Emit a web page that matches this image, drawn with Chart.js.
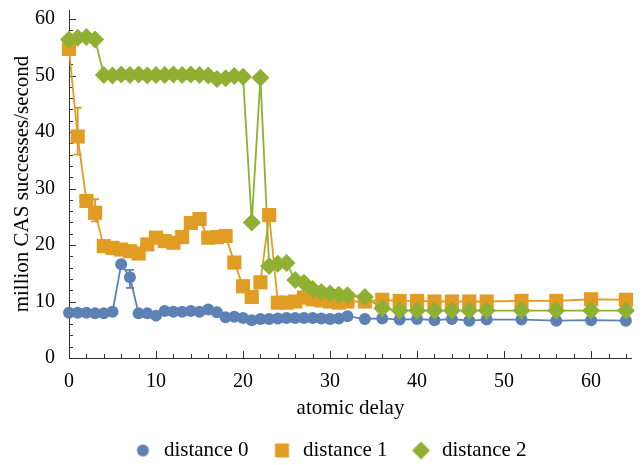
<!DOCTYPE html>
<html>
<head>
<meta charset="utf-8">
<title>CAS throughput vs atomic delay</title>
<script src="https://cdn.jsdelivr.net/npm/chart.js@4.4.0/dist/chart.umd.min.js"></script>
<style>
  html, body { margin: 0; padding: 0; background: #fff; }
</style>
</head>
<body>
<canvas id="canvas" width="642" height="465"></canvas>
<script>
// x values: atomic delay
var delays = [0, 1, 2, 3, 4, 5, 6, 7, 8, 9, 10, 11, 12, 13, 14, 15, 16, 17, 18, 19, 20,
    21, 22, 23, 24, 25, 26, 27, 28, 29, 30, 31, 32, 34, 36, 38, 40, 42, 44, 46, 48, 52, 56, 60, 64];

// million CAS successes/second
var dist0 = [8.0, 8.0, 8.0, 7.9, 7.9, 8.2, 16.6, 14.3, 7.9, 7.9, 7.5, 8.3, 8.2, 8.2, 8.3, 8.2, 8.6, 8.1, 7.2, 7.3, 7.1,
    6.7, 6.9, 6.9, 7.0, 7.1, 7.1, 7.1, 7.1, 7.0, 6.9, 7.0, 7.4, 6.9, 7.0, 6.8, 6.9, 6.7, 6.9, 6.6, 6.8, 6.8, 6.6, 6.7, 6.6];
var dist1 = [54.7, 39.2, 27.8, 25.7, 19.8, 19.5, 19.2, 18.9, 18.5, 20.1, 21.3, 20.7, 20.4, 21.4, 23.9, 24.6, 21.3, 21.4, 21.6, 16.9, 12.7,
    10.8, 13.4, 25.3, 9.8, 9.8, 10.0, 10.7, 10.4, 10.2, 10.0, 9.8, 10.0, 10.0, 10.3, 10.1, 10.1, 10.0, 10.0, 10.0, 10.0, 10.1, 10.1, 10.4, 10.3];
var dist2 = [56.4, 56.7, 56.8, 56.4, 50.1, 50.0, 50.2, 50.1, 50.2, 50.0, 50.1, 50.1, 50.2, 50.1, 50.2, 50.1, 50.0, 49.4, 49.5, 49.9, 49.8,
    24.0, 49.6, 16.3, 16.7, 16.8, 13.8, 13.3, 12.2, 11.7, 11.4, 11.2, 11.1, 10.8, 8.8, 8.4, 8.4, 8.4, 8.4, 8.4, 8.4, 8.4, 8.4, 8.4, 8.4];

// error bars: [delay, low, high]
var err0 = [[7, 12.4, 15.6]];
var err1 = [[1, 36.0, 44.3], [3, 24.2, 28.1]];
var err2 = [];

var seriesNames = ["distance 0", "distance 1", "distance 2"];
var colors = ["#5E81B5", "#E19C24", "#8FB032"];
var xTicks = [0, 10, 20, 30, 40, 50, 60];
var yTicks = [0, 10, 20, 30, 40, 50, 60];

var serif = "'Liberation Serif', 'Times New Roman', serif";
Chart.defaults.font.family = serif;
Chart.defaults.font.size = 20;
Chart.defaults.color = "#000";

function toPoints(values) {
    return delays.map(function (d, i) { return { x: d, y: values[i] }; });
}

// small canvases used as legend markers, marker sits right of centre
function legendMarker(style, color) {
    var c = document.createElement("canvas");
    c.width = 40;
    c.height = 22;
    var ctx = c.getContext("2d");
    var cx = 29.5, cy = 11;
    ctx.fillStyle = color;
    ctx.beginPath();
    if (style === "circle") {
        ctx.arc(cx, cy, 6, 0, Math.PI * 2);
    } else if (style === "rect") {
        ctx.rect(cx - 7, cy - 7, 14, 14);
    } else {
        ctx.moveTo(cx - 9, cy);
        ctx.lineTo(cx, cy - 9);
        ctx.lineTo(cx + 9, cy);
        ctx.lineTo(cx, cy + 9);
        ctx.closePath();
    }
    ctx.fill();
    return c;
}

var styles = ["circle", "rect", "rectRot"];
var radii = [6, 10, 9];
var markers = styles.map(function (s, i) { return legendMarker(s, colors[i]); });
var allValues = [dist0, dist1, dist2];
var allErrors = [err0, err1, err2];

var datasets = [];
// lines first (drawn underneath every marker)
allValues.forEach(function (vals, i) {
    datasets.push({
        label: seriesNames[i] + " line",
        data: toPoints(vals),
        showLine: true,
        borderColor: colors[i],
        borderWidth: 1.8,
        pointRadius: 0,
        tension: 0,
        clip: false,
        order: 10 - i
    });
});
allValues.forEach(function (vals, i) {
    datasets.push({
        label: seriesNames[i],
        data: toPoints(vals),
        showLine: false,
        pointStyle: styles[i],
        pointRadius: radii[i],
        pointBackgroundColor: colors[i],
        pointBorderWidth: 0,
        backgroundColor: colors[i],
        borderColor: colors[i],
        clip: false,
        order: 3 - i
    });
});

// axes with inward ticks and error bars, drawn under the data
var axesPlugin = {
    id: "mmaAxes",
    beforeDatasetsDraw: function (chart) {
        var ctx = chart.ctx;
        var area = chart.chartArea;
        var xs = chart.scales.x, ys = chart.scales.y;
        ctx.save();
        ctx.strokeStyle = "#333";
        ctx.lineWidth = 1;
        ctx.beginPath();
        ctx.moveTo(area.left + 0.5, area.top);
        ctx.lineTo(area.left + 0.5, area.bottom);
        ctx.moveTo(area.left, area.bottom + 0.5);
        ctx.lineTo(area.right, area.bottom + 0.5);
        for (var v = 0; v <= xs.max; v += 2) {
            var px = Math.round(xs.getPixelForValue(v)) + 0.5;
            var len = (v % 10 === 0) ? 7 : 4;
            ctx.moveTo(px, area.bottom);
            ctx.lineTo(px, area.bottom - len);
        }
        for (var w = 0; w <= ys.max; w += 2) {
            var py = Math.round(ys.getPixelForValue(w)) + 0.5;
            var len2 = (w % 10 === 0) ? 7 : 4;
            ctx.moveTo(area.left, py);
            ctx.lineTo(area.left + len2, py);
        }
        ctx.stroke();

        allErrors.forEach(function (list, i) {
            ctx.strokeStyle = colors[i];
            ctx.lineWidth = 1.8;
            ctx.beginPath();
            list.forEach(function (e) {
                var x = xs.getPixelForValue(e[0]);
                var lo = ys.getPixelForValue(e[1]);
                var hi = ys.getPixelForValue(e[2]);
                ctx.moveTo(x, lo);
                ctx.lineTo(x, hi);
                ctx.moveTo(x - 4, lo);
                ctx.lineTo(x + 4, lo);
                ctx.moveTo(x - 4, hi);
                ctx.lineTo(x + 4, hi);
            });
            ctx.stroke();
        });
        ctx.restore();
    }
};

var ctx = document.getElementById("canvas").getContext("2d");
var myChart = new Chart(ctx, {
    type: "scatter",
    data: { datasets: datasets },
    options: {
        responsive: false,
        animation: false,
        events: [],
        layout: { padding: { top: 5, right: 2, bottom: -6, left: 0 } },
        plugins: {
            tooltip: { enabled: false },
            legend: {
                position: "bottom",
                labels: {
                    usePointStyle: true,
                    pointStyleWidth: 40,
                    padding: 4,
                    color: "#000",
                    font: { family: serif, size: 21 },
                    generateLabels: function () {
                        return seriesNames.map(function (n, i) {
                            return {
                                text: n,
                                pointStyle: markers[i],
                                fillStyle: colors[i],
                                strokeStyle: colors[i],
                                lineWidth: 0,
                                hidden: false,
                                datasetIndex: i + 3,
                                fontColor: "#000"
                            };
                        });
                    }
                }
            }
        },
        scales: {
            x: {
                type: "linear",
                min: 0,
                max: 64.7,
                grid: { display: false },
                border: { display: false },
                ticks: { padding: 4, color: "#000", font: { size: 20 } },
                title: {
                    display: true,
                    text: "atomic delay",
                    color: "#000",
                    font: { size: 21 },
                    padding: { top: 0, bottom: 15 }
                },
                afterBuildTicks: function (s) {
                    s.ticks = xTicks.map(function (v) { return { value: v }; });
                },
                afterFit: function (s) {
                    s.height = 78;
                    s.paddingLeft = 0;
                    s.paddingRight = 0;
                }
            },
            y: {
                type: "linear",
                min: 0,
                max: 61.6,
                grid: { display: false },
                border: { display: false },
                ticks: { padding: 6, color: "#000", font: { size: 20 } },
                title: {
                    display: true,
                    text: "million CAS successes/second",
                    color: "#000",
                    font: { size: 21 },
                    padding: { top: 10, bottom: 0 }
                },
                afterBuildTicks: function (s) {
                    s.ticks = yTicks.map(function (v) { return { value: v }; });
                },
                afterFit: function (s) {
                    s.width = 69;
                    s.paddingTop = 0;
                    s.paddingBottom = 0;
                }
            }
        }
    },
    plugins: [axesPlugin]
});
</script>
</body>
</html>
